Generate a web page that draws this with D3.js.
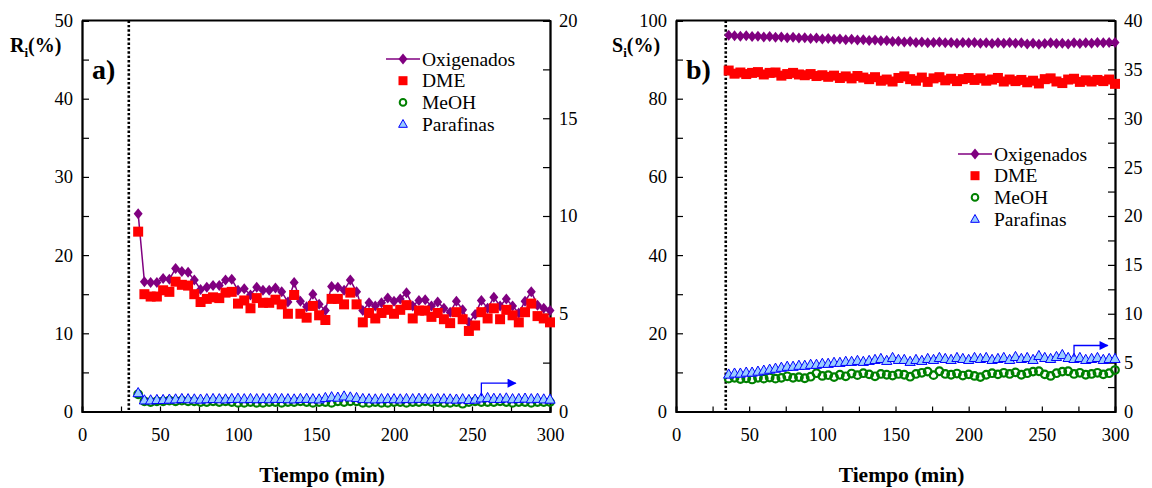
<!DOCTYPE html>
<html lang="es">
<head>
<meta charset="UTF-8">
<title>Rendimientos y selectividades</title>
<script src="https://d3js.org/d3.v7.min.js"></script>
<style>
  body { margin: 0; background: #fff; }
  svg { display: block; font-family: "Liberation Serif", "Times New Roman", serif; }
</style>
</head>
<body>
<div id="chart"></div>
<script>
// tiempo de reacción (min)
const tiempo = [36, 40, 44, 48, 52, 56, 60, 64, 68, 72,
  76, 80, 84, 88, 92, 96, 100, 104, 108, 112,
  116, 120, 124, 128, 132, 136, 140, 144, 148, 152,
  156, 160, 164, 168, 172, 176, 180, 184, 188, 192,
  196, 200, 204, 208, 212, 216, 220, 224, 228, 232,
  236, 240, 244, 248, 252, 256, 260, 264, 268, 272,
  276, 280, 284, 288, 292, 296, 300];

// a) rendimientos R_i (%)
const oxiA = [25.3, 16.6, 16.5, 16.5, 17.0, 16.9, 18.3, 17.9, 17.8, 16.8,
  15.6, 15.9, 16.1, 16.1, 16.8, 16.9, 15.5, 15.7, 14.9, 15.9,
  15.5, 15.5, 15.8, 15.3, 14.0, 16.5, 14.1, 13.4, 15.0, 13.7,
  12.9, 16.0, 15.9, 15.5, 16.8, 15.3, 12.9, 13.9, 13.5, 13.9,
  14.5, 14.1, 14.4, 15.2, 13.5, 14.2, 14.3, 13.5, 14.0, 13.2,
  12.7, 14.1, 13.0, 11.4, 12.4, 14.2, 13.2, 14.6, 13.5, 14.4,
  13.5, 12.6, 14.1, 15.3, 13.6, 13.2, 12.9];
const dmeA = [23.0, 15.0, 14.7, 14.7, 15.5, 15.3, 16.6, 16.2, 16.1, 15.0,
  14.0, 14.4, 14.6, 14.5, 15.2, 15.3, 13.8, 14.2, 13.2, 14.5,
  13.9, 13.9, 14.3, 13.7, 12.5, 14.9, 12.5, 12.0, 13.5, 12.3,
  11.7, 14.4, 14.4, 13.7, 15.2, 13.7, 11.4, 12.6, 11.9, 12.6,
  13.0, 12.5, 13.0, 13.6, 11.9, 12.9, 12.9, 12.1, 12.6, 11.8,
  11.3, 12.7, 11.8, 10.3, 11.0, 12.7, 11.9, 13.2, 11.8, 13.0,
  12.3, 11.4, 12.7, 13.8, 12.2, 11.9, 11.4];
const meohA = [2.2, 1.3, 1.2, 1.3, 1.3, 1.4, 1.3, 1.4, 1.3, 1.3,
  1.2, 1.2, 1.3, 1.2, 1.3, 1.2, 1.1, 1.1, 1.2, 1.1,
  1.1, 1.2, 1.2, 1.1, 1.2, 1.2, 1.3, 1.2, 1.1, 1.2,
  1.2, 1.1, 1.3, 1.2, 1.3, 1.3, 1.1, 1.1, 1.2, 1.1,
  1.1, 1.2, 1.2, 1.1, 1.2, 1.2, 1.3, 1.2, 1.2, 1.1,
  1.1, 1.2, 1.0, 1.2, 1.3, 1.2, 1.2, 1.2, 1.3, 1.2,
  1.1, 1.2, 1.2, 1.1, 1.2, 1.2, 1.2];
// parafinas en el eje secundario (0-20)
const parA = [0.95, 0.58, 0.58, 0.60, 0.60, 0.62, 0.63, 0.65, 0.64, 0.63,
  0.62, 0.64, 0.65, 0.64, 0.63, 0.65, 0.66, 0.64, 0.65, 0.64,
  0.65, 0.64, 0.66, 0.65, 0.64, 0.63, 0.65, 0.66, 0.64, 0.63,
  0.70, 0.74, 0.72, 0.78, 0.73, 0.70, 0.65, 0.64, 0.63, 0.64,
  0.65, 0.64, 0.63, 0.65, 0.64, 0.66, 0.64, 0.63, 0.65, 0.64,
  0.63, 0.62, 0.64, 0.60, 0.62, 0.68, 0.70, 0.66, 0.65, 0.68,
  0.64, 0.65, 0.67, 0.64, 0.66, 0.63, 0.62];

// b) selectividades S_i (%)
const oxiB = [96.2, 96.1, 96.0, 96.1, 95.9, 96.0, 95.8, 95.9, 95.7, 95.8,
  95.6, 95.7, 95.5, 95.6, 95.4, 95.5, 95.3, 95.4, 95.2, 95.3,
  95.1, 95.2, 95.0, 95.1, 94.9, 95.0, 94.8, 94.9, 94.6, 94.7,
  94.5, 94.6, 94.4, 94.5, 94.3, 94.4, 94.5, 94.3, 94.4, 94.2,
  94.4, 94.3, 94.4, 94.2, 94.3, 94.1, 94.3, 94.2, 94.4, 94.2,
  94.3, 94.0, 94.2, 93.9, 94.1, 94.3, 94.1, 94.2, 94.0, 94.3,
  94.1, 94.3, 94.2, 94.4, 94.3, 94.4, 94.4];
const dmeB = [87.2, 86.4, 86.7, 86.3, 86.6, 86.8, 86.2, 86.6, 86.7, 85.9,
  86.3, 86.6, 86.2, 86.0, 86.3, 85.8, 86.0, 85.6, 85.9, 85.3,
  85.7, 85.2, 85.8, 85.4, 85.0, 85.5, 84.6, 84.9, 84.4, 85.3,
  85.7, 85.0, 84.6, 85.4, 84.3, 85.2, 85.5, 84.7, 85.1, 84.5,
  85.0, 85.3, 84.8, 85.2, 84.6, 84.9, 85.3, 84.4, 84.9, 84.5,
  84.8, 84.2, 84.6, 83.9, 85.0, 85.2, 84.4, 84.0, 84.9, 85.1,
  84.3, 84.7, 84.4, 84.8, 84.5, 84.9, 83.8];
const meohB = [8.4, 8.6, 8.3, 8.5, 8.2, 8.6, 8.4, 8.7, 8.4, 8.6,
  9.0, 8.6, 8.8, 8.5, 8.9, 9.8, 9.1, 9.3, 8.8, 9.4,
  9.0, 9.7, 9.3, 9.8, 9.5, 9.0, 9.6, 9.4, 9.2, 9.6,
  9.4, 8.9, 9.6, 9.9, 10.2, 9.3, 10.3, 9.6, 9.4, 9.7,
  9.2, 9.5, 9.1, 8.8, 9.4, 9.8, 9.5, 9.9, 9.6, 10.0,
  9.4, 9.8, 10.2, 10.3, 9.5, 9.1, 9.8, 10.2, 10.3, 9.6,
  9.9, 9.4, 9.6, 9.9, 9.5, 9.8, 10.6];
// parafinas en el eje secundario (0-40)
const parB = [3.8, 3.9, 3.9, 4.0, 4.0, 4.1, 4.2, 4.3, 4.4, 4.5,
  4.6, 4.6, 4.7, 4.7, 4.8, 4.8, 4.9, 4.9, 5.0, 5.0,
  5.1, 5.1, 5.2, 5.1, 5.2, 5.3, 5.4, 5.2, 5.5, 5.3,
  5.3, 5.1, 5.3, 5.2, 5.4, 5.3, 5.5, 5.4, 5.3, 5.5,
  5.4, 5.3, 5.5, 5.4, 5.5, 5.3, 5.4, 5.5, 5.3, 5.6,
  5.4, 5.5, 5.3, 5.7, 5.5, 5.4, 5.6, 5.8, 5.5, 5.4,
  5.5, 5.3, 5.4, 5.5, 5.3, 5.4, 5.4];

const xTicks = [0, 50, 100, 150, 200, 250, 300];
const yTicksA = [0, 10, 20, 30, 40, 50];
const y2TicksA = [0, 5, 10, 15, 20];
const yTicksB = [0, 20, 40, 60, 80, 100];
const y2TicksB = [0, 5, 10, 15, 20, 25, 30, 35, 40];
const series = ["Oxigenados", "DME", "MeOH", "Parafinas"];

// flecha hacia el eje secundario [tiempo, valor eje secundario]
const flechaA = [[256, 0.78], [256, 1.45], [278, 1.45]];
const flechaB = [[272, 5.6], [272, 6.75], [295, 6.75]];

const W = 1152, H = 488;
const svg = d3.select("#chart").append("svg").attr("width", W).attr("height", H);

svg.append("defs").append("marker")
  .attr("id", "punta").attr("viewBox", "0 0 10 10")
  .attr("refX", 9).attr("refY", 5)
  .attr("markerWidth", 10).attr("markerHeight", 9).attr("markerUnits", "userSpaceOnUse")
  .attr("orient", "auto")
  .append("path").attr("d", "M0,0L10,5L0,10Z").attr("fill", "#0000ff");

const panels = [
  { x0: 82, x1: 550, dotted: 30, yMax: 50, y2Max: 20, yTicks: yTicksA, yMinor: 5,
    y2Ticks: y2TicksA, y2Minor: 2.5, label: "R", tag: "a)", labelX: 10,
    vals: [oxiA, dmeA, meohA, parA], arrow: flechaA, legX: 403, legY: 59 },
  { x0: 676, x1: 1115, dotted: 34, yMax: 100, y2Max: 40, yTicks: yTicksB, yMinor: 10,
    y2Ticks: y2TicksB, y2Minor: 2.5, label: "S", tag: "b)", labelX: 612,
    vals: [oxiB, dmeB, meohB, parB], arrow: flechaB, legX: 975, legY: 154 }
];

const yTop = 20.5, yBot = 411.5;

const diamond = "M0,-5.5L4.5,0L0,5.5L-4.5,0Z";
const triangle = s => `M0,${-s}L${s * 0.95},${s * 0.7}L${-s * 0.95},${s * 0.7}Z`;

panels.forEach(p => {
  const g = svg.append("g");
  const x = d3.scaleLinear().domain([0, 300]).range([p.x0, p.x1]);
  const y = d3.scaleLinear().domain([0, p.yMax]).range([yBot, yTop]);
  const y2 = d3.scaleLinear().domain([0, p.y2Max]).range([yBot, yTop]);

  // ticks menores (sin etiqueta)
  g.append("g").attr("transform", `translate(0,${yBot})`)
    .call(d3.axisBottom(x).tickValues(d3.range(0, 301, 25)).tickSize(-5).tickFormat(""));
  g.append("g").attr("transform", `translate(${p.x0},0)`)
    .call(d3.axisLeft(y).tickValues(d3.range(0, p.yMax + 0.01, p.yMinor)).tickSize(-7).tickFormat(""));
  g.append("g").attr("transform", `translate(${p.x1},0)`)
    .call(d3.axisRight(y2).tickValues(d3.range(0, p.y2Max + 0.01, p.y2Minor)).tickSize(-7).tickFormat(""));

  // etiquetas
  g.append("g").attr("class", "lab").attr("transform", `translate(0,${yBot})`)
    .call(d3.axisBottom(x).tickValues(xTicks).tickSize(0).tickPadding(16));
  g.append("g").attr("class", "lab").attr("transform", `translate(${p.x0},0)`)
    .call(d3.axisLeft(y).tickValues(p.yTicks).tickSize(0).tickPadding(9));
  g.append("g").attr("class", "lab").attr("transform", `translate(${p.x1},0)`)
    .call(d3.axisRight(y2).tickValues(p.y2Ticks).tickSize(0).tickPadding(9));

  g.selectAll(".tick line").attr("stroke", "#000").attr("stroke-width", 1.2);
  g.selectAll(".domain").attr("stroke", "#000").attr("stroke-width", 1.8);
  g.selectAll(".lab text").attr("font-size", 18.5).attr("font-family", "Liberation Serif").attr("fill", "#000");

  // marco superior
  g.append("line").attr("x1", p.x0).attr("x2", p.x1).attr("y1", yTop).attr("y2", yTop)
    .attr("stroke", "#000").attr("stroke-width", 1.8);

  // línea punteada
  g.append("line").attr("x1", x(p.dotted)).attr("x2", x(p.dotted)).attr("y1", yTop).attr("y2", yBot)
    .attr("stroke", "#000").attr("stroke-width", 2.6).attr("stroke-dasharray", "2.4,2");

  const [oxi, dme, meoh, par] = p.vals;

  // Oxigenados
  g.append("path").datum(tiempo)
    .attr("d", d3.line().x(t => x(t)).y((t, i) => y(oxi[i])))
    .attr("fill", "none").attr("stroke", "#800080").attr("stroke-width", 1.5);
  g.selectAll(".oxi").data(tiempo).join("path").attr("class", "oxi")
    .attr("transform", (t, i) => `translate(${x(t)},${y(oxi[i])})`)
    .attr("d", diamond).attr("fill", "#800080");

  // DME
  g.selectAll(".dme").data(tiempo).join("rect").attr("class", "dme")
    .attr("x", t => x(t) - 5).attr("y", (t, i) => y(dme[i]) - 5)
    .attr("width", 10).attr("height", 10).attr("fill", "#ff0000");

  // MeOH
  g.selectAll(".meoh").data(tiempo).join("circle").attr("class", "meoh")
    .attr("cx", t => x(t)).attr("cy", (t, i) => y(meoh[i])).attr("r", 3.8)
    .attr("fill", "none").attr("stroke", "#008000").attr("stroke-width", 2.2);

  // Parafinas (eje secundario)
  g.selectAll(".par").data(tiempo).join("path").attr("class", "par")
    .attr("transform", (t, i) => `translate(${x(t)},${y2(par[i])})`)
    .attr("d", triangle(5.4)).attr("fill", "#99ccff").attr("stroke", "#0000ff").attr("stroke-width", 1);

  // flecha
  g.append("path").datum(p.arrow)
    .attr("d", d3.line().x(d => x(d[0])).y(d => y2(d[1])))
    .attr("fill", "none").attr("stroke", "#0000ff").attr("stroke-width", 1.3)
    .attr("marker-end", "url(#punta)");

  // títulos del eje y
  const tl = g.append("text").attr("x", p.labelX).attr("y", 52)
    .attr("font-size", 20).attr("font-weight", "bold");
  tl.append("tspan").text(p.label);
  tl.append("tspan").attr("font-size", 13).attr("dy", 5).text("i");
  tl.append("tspan").attr("dy", -5).text("(%)");

  g.append("text").attr("x", p.x0 + 10).attr("y", 79)
    .attr("font-size", 28).attr("font-weight", "bold").text(p.tag);

  g.append("text").attr("x", (p.x0 + p.x1) / 2 + 6).attr("y", 482)
    .attr("text-anchor", "middle").attr("font-size", 21.5).attr("font-weight", "bold")
    .text("Tiempo (min)");

  // leyenda
  const leg = g.append("g").attr("transform", `translate(${p.legX},${p.legY})`);
  const dy = 21.7;
  leg.append("line").attr("x1", -17).attr("x2", 17).attr("stroke", "#800080").attr("stroke-width", 1.5);
  leg.append("path").attr("d", diamond).attr("fill", "#800080");
  leg.append("rect").attr("x", -4.5).attr("y", dy - 4.5).attr("width", 9).attr("height", 9).attr("fill", "#ff0000");
  leg.append("circle").attr("cy", dy * 2).attr("r", 3.3).attr("fill", "none").attr("stroke", "#008000").attr("stroke-width", 2);
  leg.append("path").attr("transform", `translate(0,${dy * 3})`).attr("d", triangle(4.6))
    .attr("fill", "#99ccff").attr("stroke", "#0000ff").attr("stroke-width", 1);
  leg.selectAll("text").data(series).join("text")
    .attr("x", 19).attr("y", (d, i) => i * dy + 6.5)
    .attr("font-size", 19.5).text(d => d);
});
</script>
</body>
</html>
